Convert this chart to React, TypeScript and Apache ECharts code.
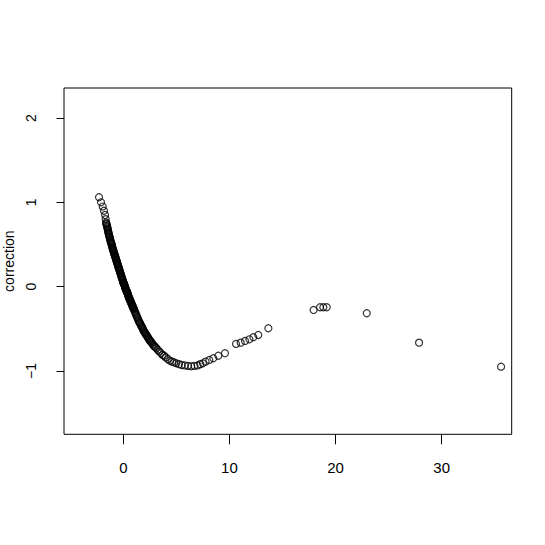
import React, { useEffect, useRef } from "react";
import * as echarts from "echarts";

const xValues: number[] = [
  -2.29, -2.1, -1.94, -1.82, -1.72, -1.6, -1.5, -1.4, -1.3, -1.2, -1.1, -1.0,
  -0.9, -0.8, -0.7, -0.6, -0.5, -0.4, -0.3, -0.2, -0.1, 0.0, 0.1, 0.2, 0.3, 0.4, 0.5,
  0.6, 0.7, 0.8, 0.9, 1.0, 1.1, 1.2, 1.3, 1.4, 1.5, 1.6, 1.7, 1.8, 1.9, 2.0, 2.1, 2.2,
  2.3, 2.4, 2.5, 2.65, 2.8, 2.95, 3.1, 3.25, 3.4, 3.55, 3.7, 3.85, 4.0, 4.2, 4.4, 4.6,
  4.8, 5.0, 5.25, 5.5, 5.8, 6.1, 6.4, 6.7, 7.0, 7.25, 7.5, 7.75, 8.1, 8.48, 8.95, 9.58,
  10.62, 11.06, 11.47, 11.88, 12.25, 12.72, 13.67, 17.93, 18.54, 18.85, 19.17, 22.94,
  27.87, 35.6,
];

const yValues: number[] = [
  1.06, 1.0, 0.95, 0.9, 0.85, 0.75, 0.7, 0.64, 0.59, 0.54, 0.5, 0.45,
  0.41, 0.37, 0.33, 0.29, 0.25, 0.21, 0.17, 0.13, 0.09, 0.05, 0.02, -0.02, -0.05, -0.08, -0.12,
  -0.15, -0.18, -0.21, -0.24, -0.27, -0.3, -0.33, -0.36, -0.39, -0.42, -0.44, -0.47, -0.49, -0.52, -0.54, -0.56, -0.58,
  -0.6, -0.62, -0.64, -0.66, -0.69, -0.71, -0.73, -0.75, -0.77, -0.79, -0.81, -0.82, -0.84, -0.86, -0.88, -0.89,
  -0.9, -0.91, -0.92, -0.93, -0.935, -0.94, -0.945, -0.94, -0.935, -0.92, -0.91, -0.89, -0.87, -0.85, -0.82, -0.79,
  -0.68, -0.665, -0.645, -0.625, -0.6, -0.574, -0.494, -0.277, -0.245, -0.245, -0.245, -0.316,
  -0.665, -0.95,
];

// extra readings inside the solid black band
const bandX: number[] = [
  -1.66, -1.55, -1.45, -1.35, -1.25, -1.15, -1.05, -0.95, -0.85, -0.75, -0.65, -0.55,
  -0.45, -0.35, -0.25, -0.15, -0.05, 0.05, 0.15, 0.25, 0.35, 0.45, 0.55, 0.65, 0.75,
  0.85, 0.95, 1.05, 1.15, 1.25, 1.35, 1.45, 1.55, 1.65, 1.75, 1.85, 1.95, 2.05, 2.15,
  2.25, 2.35, 2.45, 2.575, 2.725, 2.875, 3.025,
];

const bandY: number[] = [
  0.8, 0.725, 0.67, 0.615, 0.565, 0.52, 0.475, 0.43, 0.39, 0.35, 0.31, 0.27,
  0.23, 0.19, 0.15, 0.11, 0.07, 0.035, 0.0, -0.035, -0.065, -0.1, -0.135, -0.165, -0.195,
  -0.225, -0.255, -0.285, -0.315, -0.345, -0.375, -0.405, -0.43, -0.455, -0.48, -0.505, -0.53, -0.55, -0.57,
  -0.59, -0.61, -0.63, -0.65, -0.675, -0.7, -0.72,
];

// further readings where the band is steepest
const steepX: number[] = [
  -1.625, -1.575, -1.525, -1.475, -1.425, -1.375, -1.325, -1.275, -1.225, -1.175, -1.125,
  -1.075, -1.025, -0.975, -0.925, -0.875, -0.825, -0.775, -0.725, -0.675, -0.625, -0.575,
  -0.525, -0.475, -0.425, -0.375, -0.325, -0.275, -0.225, -0.175, -0.125, -0.075, -0.025,
  0.025, 0.075, 0.125, 0.175, 0.225, 0.275, 0.325, 0.375, 0.425, 0.475, 0.525, 0.575,
  0.625, 0.675, 0.725, 0.775, 0.825, 0.875, 0.925, 0.975,
];

const steepY: number[] = [
  0.76, 0.74, 0.71, 0.685, 0.655, 0.63, 0.6, 0.58, 0.55, 0.53, 0.51,
  0.49, 0.46, 0.44, 0.42, 0.4, 0.38, 0.36, 0.34, 0.32, 0.3, 0.28,
  0.26, 0.24, 0.22, 0.2, 0.18, 0.16, 0.14, 0.12, 0.1, 0.08, 0.06,
  0.04, 0.03, 0.01, -0.01, -0.03, -0.04, -0.06, -0.07, -0.09, -0.11, -0.13, -0.14,
  -0.16, -0.17, -0.19, -0.2, -0.22, -0.23, -0.25, -0.26,
];

const xTicks: number[] = [0, 10, 20, 30];
const yTicks: number[] = [-1, 0, 1, 2];
const yTitle = "correction";

export default function App() {
  const ref = useRef<HTMLDivElement>(null);
  useEffect(() => {
    if (!ref.current) return;
    const chart = echarts.init(ref.current, null, { renderer: "svg" });
    const data = xValues
      .map((x, i) => [x, yValues[i]])
      .concat(bandX.map((x, i) => [x, bandY[i]]))
      .concat(steepX.map((x, i) => [x, steepY[i]]));
    chart.setOption({
      animation: false,
      backgroundColor: "#ffffff",
      grid: {
        left: 64,
        top: 88,
        right: 33.3,
        bottom: 110.7,
        show: true,
        borderColor: "#000",
        borderWidth: 1,
        backgroundColor: "transparent",
        containLabel: false,
        outerBoundsMode: "none",
      },
      xAxis: {
        type: "value",
        min: -5.59,
        max: 36.6,
        splitLine: { show: false },
        axisLine: { show: false, onZero: false },
        axisTick: {
          show: true,
          length: 10,
          customValues: xTicks,
          lineStyle: { color: "#000", width: 1 },
        },
        axisLabel: {
          customValues: xTicks,
          margin: 26,
          color: "#000",
          fontFamily: "'Liberation Sans', Arial, sans-serif",
          fontSize: 15,
        },
      },
      yAxis: {
        type: "value",
        min: -1.752,
        max: 2.356,
        name: yTitle,
        nameLocation: "middle",
        nameRotate: 90,
        nameGap: 46,
        nameTextStyle: {
          color: "#000",
          fontFamily: "'Liberation Sans', Arial, sans-serif",
          fontSize: 14,
        },
        splitLine: { show: false },
        axisLine: { show: false, onZero: false },
        axisTick: {
          show: true,
          length: 7.5,
          customValues: yTicks,
          lineStyle: { color: "#000", width: 1 },
        },
        axisLabel: {
          customValues: yTicks,
          rotate: 90,
          margin: 26,
          color: "#000",
          fontFamily: "'Liberation Sans', Arial, sans-serif",
          fontSize: 14,
          formatter: (v: number) => (v < 0 ? "\u2212" + Math.abs(v) : String(v)),
        },
      },
      series: [
        {
          type: "scatter",
          data,
          symbol: "circle",
          symbolSize: 7,
          itemStyle: {
            color: "rgba(0,0,0,0)",
            borderColor: "#000",
            borderWidth: 1.2,
          },
          emphasis: { disabled: true },
        },
      ],
    });
    return () => chart.dispose();
  }, []);
  return (
    <div
      ref={ref}
      style={{ position: "fixed", left: 0, top: 0, width: 545, height: 545, background: "#fff" }}
    />
  );
}
